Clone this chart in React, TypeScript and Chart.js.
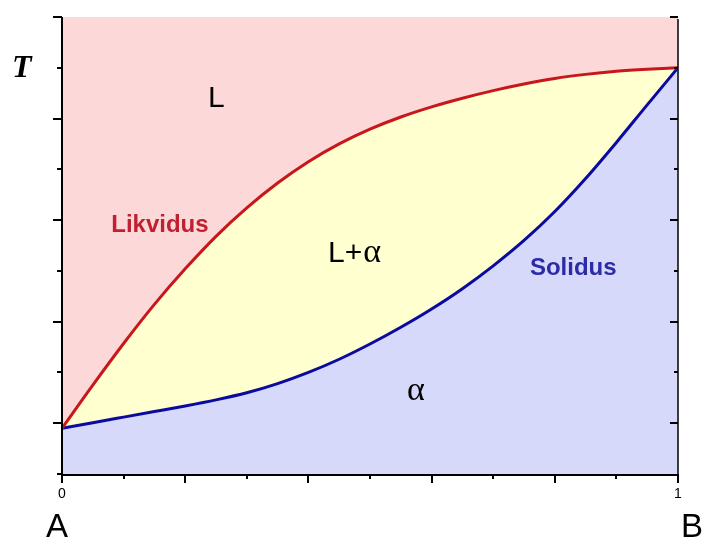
import React, { useEffect, useRef } from 'react';
import { Chart, registerables } from 'chart.js';

Chart.register(...registerables);

// composition x_B (0 = pure A, 1 = pure B)
const composition = [0, 0.05, 0.1, 0.15, 0.2, 0.25, 0.3, 0.35, 0.4, 0.45, 0.5, 0.55, 0.6, 0.65, 0.7, 0.75, 0.8, 0.85, 0.9, 0.95, 1];
// temperature (arbitrary units, axis 0..9)
const liquidus = [0.9, 1.75, 2.57, 3.34, 4.04, 4.68, 5.24, 5.73, 6.15, 6.5, 6.79, 7.03, 7.23, 7.4, 7.55, 7.68, 7.79, 7.87, 7.93, 7.97, 8.0];
const solidus = [0.9, 1.01, 1.12, 1.23, 1.34, 1.46, 1.6, 1.78, 2.0, 2.26, 2.56, 2.89, 3.25, 3.65, 4.1, 4.6, 5.17, 5.82, 6.53, 7.27, 8.0];

const xTickValues = [0, 0.1, 0.2, 0.3, 0.4, 0.5, 0.6, 0.7, 0.8, 0.9, 1];
const xTickLabels = ['0', '', '', '', '', '', '', '', '', '', '1'];
const yTickValues = [0, 1, 2, 3, 4, 5, 6, 7, 8, 9];

const SANS = '"Liberation Sans", Arial, sans-serif';
const SERIF = '"Liberation Serif", "Times New Roman", serif';

const decorPlugin = {
  id: 'decor',
  beforeDraw(chart: any) {
    const { ctx, chartArea } = chart;
    ctx.save();
    ctx.fillStyle = '#fcd8d8';
    ctx.fillRect(chartArea.left, chartArea.top, chartArea.right - chartArea.left, chartArea.bottom - chartArea.top);
    ctx.restore();
  },
  afterDraw(chart: any) {
    const { ctx, chartArea, scales } = chart;
    const xs = scales.x;
    const ys = scales.y;
    const L = chartArea.left, R = chartArea.right, T = chartArea.top, B = chartArea.bottom;
    ctx.save();
    ctx.strokeStyle = '#000';
    ctx.lineCap = 'butt';
    // axis lines
    ctx.lineWidth = 2;
    ctx.beginPath();
    ctx.moveTo(L, T); ctx.lineTo(L, B + 1); ctx.lineTo(R, B + 1);
    ctx.stroke();
    ctx.lineWidth = 1.5;
    ctx.beginPath();
    ctx.moveTo(R, T + 2); ctx.lineTo(R, B + 1);
    ctx.stroke();
    // ticks
    ctx.lineWidth = 2;
    xTickValues.forEach((v, i) => {
      const px = Math.round(xs.getPixelForValue(v));
      const len = i % 2 === 0 ? 9 : 5;
      ctx.beginPath();
      ctx.moveTo(px, B);
      ctx.lineTo(px, B + len);
      ctx.stroke();
    });
    yTickValues.forEach((v) => {
      const py = Math.round(ys.getPixelForValue(v));
      const major = v % 2 === 1;
      ctx.beginPath();
      ctx.moveTo(L - (major ? 9 : 5), py);
      ctx.lineTo(L, py);
      ctx.stroke();
      if (v > 0) {
        ctx.beginPath();
        ctx.moveTo(R, py);
        ctx.lineTo(R - (major ? 8 : 4), py);
        ctx.stroke();
      }
    });
    // tick labels
    ctx.fillStyle = '#000';
    ctx.font = `14px ${SANS}`;
    ctx.textAlign = 'center';
    ctx.textBaseline = 'alphabetic';
    xTickValues.forEach((v, i) => {
      if (!xTickLabels[i]) return;
      ctx.fillText(xTickLabels[i], xs.getPixelForValue(v), B + 24);
    });
    // axis letters
    ctx.font = `33px ${SANS}`;
    ctx.fillText('A', xs.getPixelForValue(0) - 5, 537);
    ctx.fillText('B', xs.getPixelForValue(1) + 14, 537);
    ctx.font = `bold italic 32px ${SERIF}`;
    ctx.textAlign = 'left';
    ctx.fillText('T', 12, ys.getPixelForValue(8) + 9);

    // region labels
    ctx.fillStyle = '#000';
    ctx.font = `30px ${SANS}`;
    ctx.textAlign = 'left';
    ctx.fillText('L', xs.getPixelForValue(0.237), ys.getPixelForValue(7.227));
    const lx = xs.getPixelForValue(0.432);
    const ly = ys.getPixelForValue(4.175);
    ctx.fillText('L+', lx, ly);
    const w = ctx.measureText('L+').width;
    ctx.font = `34px ${SERIF}`;
    ctx.fillText('α', lx + w + 1, ly);
    ctx.fillText('α', xs.getPixelForValue(0.56), ys.getPixelForValue(1.457));

    ctx.textAlign = 'center';
    ctx.font = `bold 24px ${SANS}`;
    ctx.fillStyle = '#c02030';
    ctx.fillText('Likvidus', xs.getPixelForValue(0.159), ys.getPixelForValue(4.766));
    ctx.fillStyle = '#2b2ba6';
    ctx.fillText('Solidus', xs.getPixelForValue(0.83), ys.getPixelForValue(3.919));
    ctx.restore();
  },
};

export default function App() {
  const ref = useRef<HTMLCanvasElement | null>(null);
  useEffect(() => {
    if (!ref.current) return;
    const chart = new Chart(ref.current, {
      type: 'line',
      data: {
        datasets: [
          {
            label: 'Likvidus',
            data: composition.map((x, i) => ({ x, y: liquidus[i] })),
            borderColor: '#c8161a',
            borderWidth: 3,
            backgroundColor: '#ffffd0',
            fill: '+1',
            pointRadius: 0,
            cubicInterpolationMode: 'monotone',
          },
          {
            label: 'Solidus',
            data: composition.map((x, i) => ({ x, y: solidus[i] })),
            borderColor: '#0a0aa0',
            borderWidth: 3,
            backgroundColor: '#d7d9fb',
            fill: 'start',
            pointRadius: 0,
            cubicInterpolationMode: 'monotone',
          },
        ],
      },
      options: {
        animation: false,
        responsive: false,
        layout: { padding: { left: 62, top: 17, right: 24, bottom: 64 } },
        plugins: {
          legend: { display: false },
          tooltip: { enabled: false },
          filler: { drawTime: 'beforeDatasetsDraw' },
        },
        events: [],
        scales: {
          x: { type: 'linear', min: 0, max: 1, display: false },
          y: { type: 'linear', min: 0, max: 9, display: false },
        },
      } as any,
      plugins: [decorPlugin],
    });
    return () => chart.destroy();
  }, []);
  return (
    <canvas
      ref={ref}
      width={702}
      height={538}
      style={{ position: 'absolute', left: 0, top: 0, width: 702, height: 538, display: 'block' }}
    />
  );
}
